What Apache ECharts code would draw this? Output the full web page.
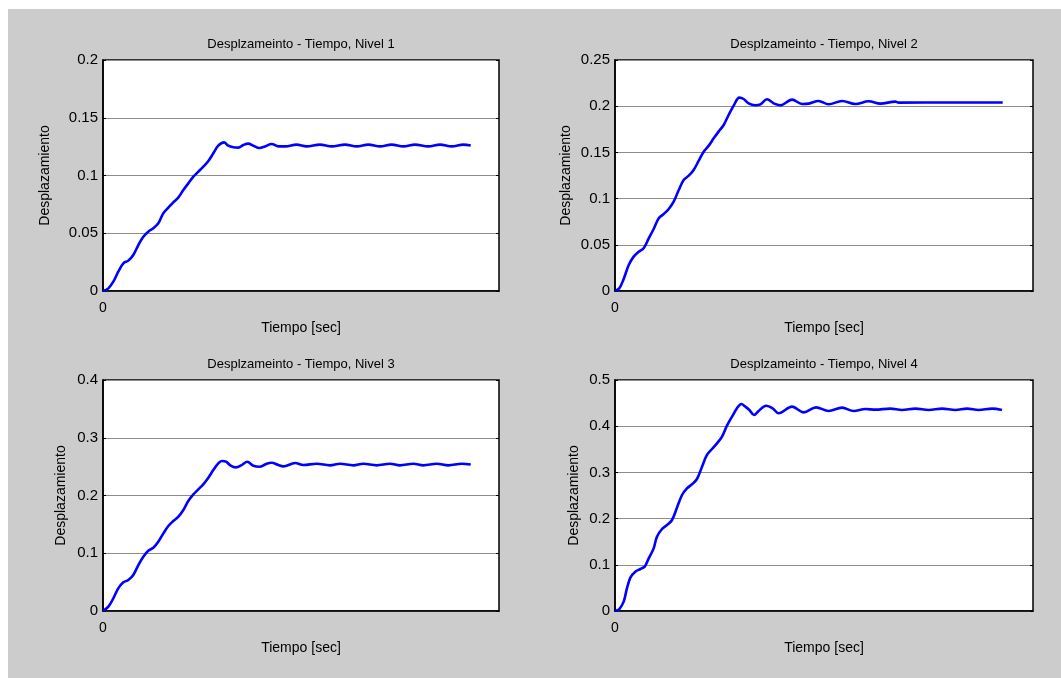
<!DOCTYPE html>
<html>
<head>
<meta charset="utf-8">
<title>Desplazamiento - Tiempo</title>
<script src="https://cdn.jsdelivr.net/npm/echarts@6/dist/echarts.min.js"></script>
<style>
  html, body { margin: 0; padding: 0; background: #ffffff; }
  #chart { width: 1061px; height: 678px; }
</style>
</head>
<body>
<div id="chart"></div>
<script>
// Time samples [s] and displacement for each level
const t1 = [0, 0.38, 0.73, 1.08, 1.44, 1.79, 2.14, 2.5, 2.85, 3.2, 3.56, 3.91, 4.26, 4.62, 4.97, 5.32, 5.68, 6.03, 6.39, 6.74, 7.09, 7.45, 7.8, 8.15, 8.56, 8.86, 9.21, 9.57, 9.92, 10.27, 10.63, 11.05, 11.45, 11.93, 12.4, 12.9, 13.69, 14.4, 15.34, 16.17, 17.11, 17.94, 18.76, 19.59, 20.41, 21.24, 22.06, 23.0, 23.83, 24.66, 25.48, 26.0];
const d1 = [0, 0.0023, 0.0081, 0.0167, 0.024, 0.0263, 0.0312, 0.0398, 0.047, 0.0514, 0.0543, 0.0586, 0.0672, 0.0722, 0.0768, 0.0808, 0.0874, 0.0932, 0.099, 0.1033, 0.1076, 0.1126, 0.1192, 0.1258, 0.1287, 0.1258, 0.1244, 0.1241, 0.1264, 0.1276, 0.1258, 0.1238, 0.1252, 0.1273, 0.1252, 0.1252, 0.1267, 0.1252, 0.1267, 0.1252, 0.1267, 0.1252, 0.1267, 0.1252, 0.1267, 0.1252, 0.1267, 0.1252, 0.1267, 0.1252, 0.1267, 0.126];

const t2 = [0, 0.29, 0.58, 0.92, 1.25, 1.59, 1.92, 2.26, 2.59, 2.93, 3.26, 3.6, 3.93, 4.27, 4.6, 4.94, 5.27, 5.6, 5.94, 6.28, 6.61, 6.94, 7.28, 7.61, 7.95, 8.33, 8.62, 8.95, 9.4, 9.74, 10.18, 10.63, 11.07, 11.86, 12.53, 12.97, 13.64, 14.31, 15.21, 16.1, 16.99, 17.78, 18.78, 19.0, 22.5, 25.97];
const d2 = [0, 0.0029, 0.013, 0.0281, 0.0372, 0.0426, 0.0462, 0.057, 0.0671, 0.0787, 0.0833, 0.0888, 0.0967, 0.1093, 0.1201, 0.1248, 0.131, 0.1407, 0.1508, 0.1573, 0.1652, 0.1725, 0.1797, 0.1905, 0.2006, 0.2093, 0.2078, 0.2031, 0.201, 0.202, 0.2075, 0.2031, 0.201, 0.2071, 0.2024, 0.2028, 0.2057, 0.2021, 0.2057, 0.2024, 0.2053, 0.2028, 0.2049, 0.2039, 0.204, 0.204];

const t3 = [0, 0.38, 0.73, 1.08, 1.44, 1.79, 2.14, 2.5, 2.85, 3.2, 3.56, 3.91, 4.27, 4.62, 4.97, 5.33, 5.68, 6.03, 6.39, 6.74, 7.09, 7.45, 7.8, 8.15, 8.39, 8.7, 9.03, 9.4, 9.8, 10.2, 10.63, 11.1, 11.57, 11.93, 12.4, 12.75, 13.58, 14.17, 15.11, 16.05, 16.76, 17.7, 18.41, 19.35, 20.29, 21.0, 21.94, 22.65, 23.59, 24.42, 25.36, 26.0];
const d3 = [0, 0.0075, 0.0219, 0.0392, 0.0496, 0.0537, 0.0623, 0.0796, 0.094, 0.1044, 0.1096, 0.12, 0.1344, 0.1471, 0.1558, 0.1633, 0.1748, 0.1904, 0.2019, 0.2106, 0.2193, 0.2308, 0.2441, 0.2556, 0.2597, 0.2585, 0.2516, 0.2487, 0.2527, 0.2585, 0.2516, 0.2498, 0.255, 0.2568, 0.2527, 0.2504, 0.2562, 0.2527, 0.255, 0.2522, 0.255, 0.2522, 0.255, 0.2522, 0.255, 0.2522, 0.255, 0.2522, 0.255, 0.2522, 0.255, 0.2536];

const t4 = [0, 0.29, 0.58, 0.8, 1.03, 1.36, 1.7, 1.99, 2.26, 2.59, 2.81, 3.15, 3.48, 3.82, 4.15, 4.49, 4.82, 5.16, 5.49, 5.83, 6.16, 6.5, 6.83, 7.17, 7.5, 7.84, 8.17, 8.46, 8.73, 9.0, 9.31, 9.62, 10.12, 10.56, 10.96, 11.86, 12.64, 13.47, 14.31, 15.21, 15.99, 16.77, 17.44, 18.44, 19.23, 20.12, 21.01, 21.91, 22.8, 23.58, 24.36, 25.26, 25.92];
const d4 = [0, 0.0043, 0.0202, 0.049, 0.0722, 0.0851, 0.0909, 0.096, 0.114, 0.1356, 0.1609, 0.1775, 0.1862, 0.197, 0.2237, 0.2511, 0.2655, 0.2742, 0.2857, 0.3124, 0.3377, 0.3506, 0.3629, 0.3773, 0.4012, 0.4206, 0.4387, 0.4481, 0.4423, 0.4351, 0.4242, 0.4329, 0.4444, 0.4387, 0.4279, 0.4423, 0.43, 0.4408, 0.4329, 0.4401, 0.4329, 0.4372, 0.4358, 0.438, 0.4351, 0.438, 0.4351, 0.438, 0.4351, 0.438, 0.4351, 0.438, 0.4351];

// Axis ticks
const xTicks = [0];
const xMax = 28;
const yTicks1 = [0, 0.05, 0.1, 0.15, 0.2];
const yTicks2 = [0, 0.05, 0.1, 0.15, 0.2, 0.25];
const yTicks3 = [0, 0.1, 0.2, 0.3, 0.4];
const yTicks4 = [0, 0.1, 0.2, 0.3, 0.4, 0.5];

const titles = [
  'Desplzameinto - Tiempo, Nivel 1',
  'Desplzameinto - Tiempo, Nivel 2',
  'Desplzameinto - Tiempo, Nivel 3',
  'Desplzameinto - Tiempo, Nivel 4'
];
const xName = 'Tiempo [sec]';
const yName = 'Desplazamiento';

const FONT = '"Liberation Sans", Arial, sans-serif';
const panels = [
  { t: t1, d: d1, ticks: yTicks1, grid: { left: 103, top: 60, width: 396, height: 231 }, yGap: 51, titleTop: 38 },
  { t: t2, d: d2, ticks: yTicks2, grid: { left: 615, top: 60, width: 418, height: 231 }, yGap: 42, titleTop: 38 },
  { t: t3, d: d3, ticks: yTicks3, grid: { left: 103, top: 380, width: 396, height: 231 }, yGap: 35, titleTop: 358 },
  { t: t4, d: d4, ticks: yTicks4, grid: { left: 615, top: 380, width: 418, height: 231 }, yGap: 34, titleTop: 358 }
];

const zip = (t, d) => t.map((v, i) => [v, d[i]]);

const option = {
  backgroundColor: '#ffffff',
  animation: false,
  graphic: [{
    type: 'rect', z: -10, silent: true,
    shape: { x: 8, y: 9, width: 1053, height: 669 },
    style: { fill: '#cccccc' }
  }],
  title: panels.map((p, i) => ({
    text: titles[i],
    left: p.grid.left + p.grid.width / 2,
    top: p.titleTop,
    textAlign: 'center',
    padding: 0,
    textStyle: { fontFamily: FONT, fontSize: 13, fontWeight: 'normal', color: '#000' }
  })),
  grid: panels.map(p => Object.assign({
    show: true, backgroundColor: '#ffffff', borderColor: '#000', borderWidth: 1.5
  }, p.grid)),
  xAxis: panels.map((p, i) => ({
    type: 'value', gridIndex: i, min: 0, max: xMax,
    name: xName, nameLocation: 'middle', nameGap: 30,
    nameTextStyle: { fontFamily: FONT, fontSize: 14, color: '#000' },
    axisLine: { show: true, lineStyle: { color: '#000', width: 1.5 } },
    axisTick: { show: true, inside: true, length: 3, customValues: xTicks, lineStyle: { color: '#000' } },
    axisLabel: { show: true, customValues: xTicks, margin: 10, fontFamily: FONT, fontSize: 14, color: '#000' },
    splitLine: { show: false }
  })),
  yAxis: panels.flatMap((p, i) => [{
    type: 'value', gridIndex: i, position: 'left', min: 0,
    max: p.ticks[p.ticks.length - 1], interval: p.ticks[1] - p.ticks[0],
    name: yName, nameLocation: 'middle', nameRotate: 90, nameGap: p.yGap,
    nameTextStyle: { fontFamily: FONT, fontSize: 14, color: '#000' },
    axisLine: { show: true, lineStyle: { color: '#000', width: 1.5 } },
    axisTick: { show: true, inside: true, length: 3, lineStyle: { color: '#000' } },
    axisLabel: { margin: 5, fontFamily: FONT, fontSize: 15, color: '#000',
      formatter: v => String(+v.toFixed(4)) },
    splitLine: { show: true, lineStyle: { color: '#8c8c8c', width: 1 } }
  }, {
    type: 'value', gridIndex: i, position: 'right', min: 0,
    max: p.ticks[p.ticks.length - 1], interval: p.ticks[1] - p.ticks[0],
    axisLine: { show: false },
    axisTick: { show: true, inside: true, length: 3, lineStyle: { color: '#000' } },
    axisLabel: { show: false },
    splitLine: { show: false }
  }]),
  series: panels.map((p, i) => ({
    type: 'line', xAxisIndex: i, yAxisIndex: i * 2,
    data: zip(p.t, p.d),
    smooth: 0.35, showSymbol: false, clip: true,
    lineStyle: { color: '#0000ff', width: 2.6 }
  }))
};

const chart = echarts.init(document.getElementById('chart'), null, { renderer: 'canvas' });
chart.setOption(option);
</script>
</body>
</html>
